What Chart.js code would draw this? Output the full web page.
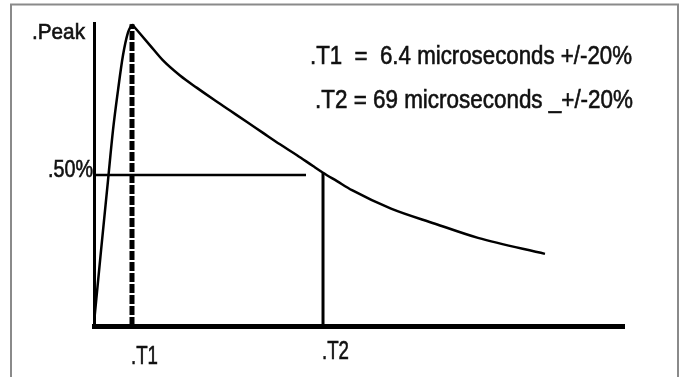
<!DOCTYPE html>
<html>
<head>
<meta charset="utf-8">
<script src="https://cdn.jsdelivr.net/npm/chart.js@4/dist/chart.umd.min.js"></script>
<style>
  html, body { margin: 0; padding: 0; background: #fff; }
  #wrap { width: 681px; height: 377px; }
</style>
</head>
<body>
<div id="wrap"><canvas id="c" width="681" height="377"></canvas></div>
<script>
// ---- data (schematic time units / percent of peak) ----
const riseX  = [0, 1.32, 2.64, 3.58, 4.53, 5.47, 6.42, 7.17];
const riseY  = [1.0, 24.9, 48.2, 64.8, 78.1, 89.7, 97.3, 100];
const decayX = [7.17, 10.57, 13.02, 16.23, 19.43, 22.45, 25.66, 28.87, 31.89, 35.09, 38.30, 41.32, 43.21, 45.85, 48.68, 56.04, 64.34, 72.45, 85.09];
const decayY = [100, 93.0, 88.0, 83.0, 78.9, 75.2, 71.4, 67.6, 64.0, 60.2, 56.6, 53.0, 50.8, 48.0, 45.0, 38.9, 33.9, 29.2, 23.9];
const t1 = 7.17;          // time of peak
const t2 = 43.21;         // time of 50% decay
const halfLevel = 50;     // 50% of peak
const halfLineEnd = 40;   // end of the horizontal 50% marker
const peakLevel = 100;
const yLabels = ['.Peak', '.50%'];
const xLabels = ['.T1', '.T2'];
const noteLines = ['.T1  =  6.4 microseconds +/-20%', '.T2 = 69 microseconds _+/-20%'];

const pts = (xs, ys) => xs.map((x, i) => ({ x, y: ys[i] }));

function fitText(ctx, text, x, y, size, width) {
  ctx.save();
  ctx.font = size + 'px "Liberation Sans", Arial, sans-serif';
  const w = ctx.measureText(text).width;
  const sx = width / w;
  ctx.translate(x, y);
  ctx.scale(sx, 1);
  ctx.textBaseline = 'alphabetic';
  ctx.textAlign = 'left';
  ctx.fillStyle = '#111';
  ctx.strokeStyle = '#111';
  ctx.lineWidth = 0.6;
  ctx.fillText(text, 0, 0);
  ctx.strokeText(text, 0, 0);
  ctx.restore();
}

const decor = {
  id: 'decor',
  beforeDraw(chart) {
    const ctx = chart.ctx;
    ctx.save();
    ctx.fillStyle = '#fff';
    ctx.fillRect(0, 0, chart.width, chart.height);
    ctx.strokeStyle = '#8a8a8a';
    ctx.lineWidth = 2;
    ctx.beginPath();
    ctx.moveTo(11, chart.height);
    ctx.lineTo(11, 4.5);
    ctx.lineTo(678, 4.5);
    ctx.lineTo(678, chart.height);
    ctx.stroke();
    ctx.restore();
  },
  afterDraw(chart) {
    const ctx = chart.ctx;
    const xs = chart.scales.x, ys = chart.scales.y;
    // y labels
    fitText(ctx, yLabels[0], xs.left - 62, ys.getPixelForValue(peakLevel) + 15, 22, 53);
    fitText(ctx, yLabels[1], xs.left - 46, ys.getPixelForValue(halfLevel) + 2, 23, 45);
    // x labels
    fitText(ctx, xLabels[0], xs.getPixelForValue(t1) - 1, ys.bottom + 38, 26, 27);
    fitText(ctx, xLabels[1], xs.getPixelForValue(t2) - 1, ys.bottom + 33, 26, 27);
    // notes
    fitText(ctx, noteLines[0], 310, 64, 26, 322);
    fitText(ctx, noteLines[1], 315, 108, 26, 318);
  }
};

new Chart(document.getElementById('c'), {
  type: 'line',
  data: {
    datasets: [
      { data: pts(riseX, riseY), borderColor: '#000', borderWidth: 2.5, cubicInterpolationMode: 'monotone', pointRadius: 0 },
      { data: pts(decayX, decayY), borderColor: '#000', borderWidth: 2.5, cubicInterpolationMode: 'monotone', pointRadius: 0 },
      { data: [{ x: t1, y: 0 }, { x: t1, y: peakLevel }], borderColor: '#000', borderWidth: 5, borderDash: [9, 2], pointRadius: 0 },
      { data: [{ x: t2, y: 0 }, { x: t2, y: decayY[decayX.indexOf(t2)] }], borderColor: '#000', borderWidth: 3, pointRadius: 0 },
      { data: [{ x: 0, y: halfLevel }, { x: halfLineEnd, y: halfLevel }], borderColor: '#000', borderWidth: 2.5, pointRadius: 0 }
    ]
  },
  options: {
    responsive: false,
    animation: false,
    events: [],
    layout: { padding: { left: 94, right: 57, top: 23, bottom: 51 } },
    plugins: { legend: { display: false }, tooltip: { enabled: false } },
    scales: {
      x: {
        type: 'linear', min: 0, max: 100,
        ticks: { display: false },
        grid: { display: false, drawTicks: false },
        border: { display: true, color: '#000', width: 5 }
      },
      y: {
        type: 'linear', min: 0, max: 100.4,
        ticks: { display: false },
        grid: { display: false, drawTicks: false },
        border: { display: true, color: '#000', width: 3 }
      }
    }
  },
  plugins: [decor]
});
</script>
</body>
</html>
